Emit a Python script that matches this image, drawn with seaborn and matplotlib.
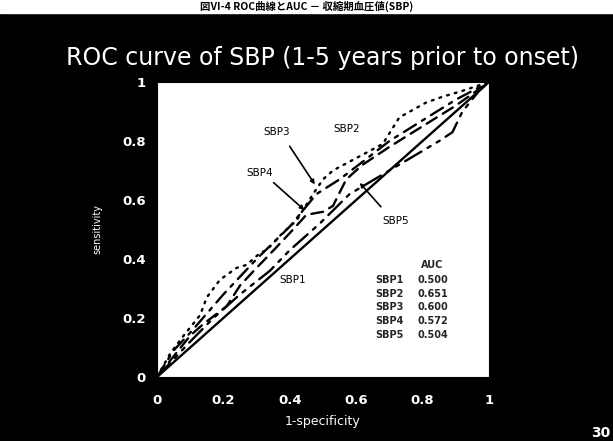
import matplotlib
matplotlib.use("Agg")
import matplotlib.pyplot as plt
from matplotlib.patches import Rectangle
import seaborn as sns

# ROC points (1-specificity, sensitivity)
sbp1_x = [0, 1]
sbp1_y = [0, 1]

sbp2_x = [0, 0.04, 0.08, 0.13, 0.15, 0.19, 0.24, 0.27, 0.31, 0.33, 0.38, 0.42,
          0.47, 0.50, 0.53, 0.58, 0.68, 0.73, 0.81, 0.86, 0.92, 1.0]
sbp2_y = [0, 0.08, 0.14, 0.21, 0.27, 0.33, 0.37, 0.38, 0.42, 0.43, 0.49, 0.53,
          0.62, 0.67, 0.70, 0.73, 0.79, 0.88, 0.93, 0.95, 0.97, 1.0]

sbp3_x = [0, 0.05, 0.10, 0.20, 0.30, 0.40, 0.48, 0.55, 0.62, 0.70, 0.80, 0.90, 1.0]
sbp3_y = [0, 0.09, 0.15, 0.28, 0.40, 0.51, 0.62, 0.67, 0.73, 0.80, 0.87, 0.94, 1.0]

sbp4_x = [0, 0.05, 0.10, 0.14, 0.21, 0.25, 0.30, 0.36, 0.41, 0.45, 0.50, 0.53,
          0.57, 0.62, 0.70, 0.80, 0.90, 1.0]
sbp4_y = [0, 0.07, 0.14, 0.18, 0.24, 0.31, 0.37, 0.44, 0.50, 0.55, 0.56, 0.58,
          0.67, 0.72, 0.78, 0.85, 0.92, 1.0]

sbp5_x = [0, 0.10, 0.17, 0.25, 0.34, 0.40, 0.49, 0.58, 0.67, 0.73, 0.85, 0.89,
          0.92, 0.97, 1.0]
sbp5_y = [0, 0.12, 0.20, 0.28, 0.36, 0.43, 0.52, 0.62, 0.68, 0.72, 0.80, 0.83,
          0.90, 0.97, 1.0]

auc_names = ["SBP1", "SBP2", "SBP3", "SBP4", "SBP5"]
auc_values = ["0.500", "0.651", "0.600", "0.572", "0.504"]

ticks = [0, 0.2, 0.4, 0.6, 0.8, 1]
tick_labels = ["0", "0.2", "0.4", "0.6", "0.8", "1"]

sns.set_style("white")
plt.rcParams['font.family'] = ['DejaVu Sans', 'Noto Sans CJK JP']

fig = plt.figure(figsize=(6.13, 4.41), dpi=100)
fig.patch.set_facecolor('black')

# white strip of the page above the slide, with the caption
fig.add_artist(Rectangle((0, 1 - 13 / 441), 1, 13 / 441,
                         transform=fig.transFigure, color='white', zorder=0))
fig.text(0.5, 1 - 6.5 / 441, "図Ⅵ-4 ROC曲線とAUC － 収縮期血圧値(SBP)",
         family=['Noto Sans CJK JP', 'DejaVu Sans'], fontsize=7.5,
         fontweight='bold', color='black', va='center', ha='center')

ax = fig.add_axes([157 / 613, 1 - 377 / 441, 332 / 613, 295 / 441])
ax.set_facecolor('white')

curves = [
    (sbp1_x, sbp1_y, '-'),
    (sbp2_x, sbp2_y, (0, (0.8, 2.6))),
    (sbp3_x, sbp3_y, (0, (6, 3, 1.5, 3))),
    (sbp4_x, sbp4_y, (0, (5, 3))),
    (sbp5_x, sbp5_y, (0, (8, 3, 1.5, 3, 1.5, 3))),
]
for xs, ys, ls in curves:
    sns.lineplot(x=xs, y=ys, ax=ax, color='black', linewidth=1.7,
                 linestyle=ls, sort=False, estimator=None,
                 dash_capstyle='round')

ax.set_xlim(0, 1)
ax.set_ylim(0, 1)
ax.set_xticks(ticks)
ax.set_xticklabels(tick_labels)
ax.set_yticks(ticks)
ax.set_yticklabels(tick_labels)
ax.tick_params(direction='in', length=4, color='black', labelcolor='white',
               labelsize=9.5)
ax.tick_params(axis='x', pad=12)
ax.tick_params(axis='y', pad=8)
for lab in ax.get_xticklabels() + ax.get_yticklabels():
    lab.set_fontweight('bold')
for sp in ax.spines.values():
    sp.set_color('black')

ax.set_xlabel("1-specificity", color='white', fontsize=9, labelpad=6)
ax.set_ylabel("sensitivity", color='white', fontsize=7, labelpad=14)

# curve labels and arrows
kw = dict(fontsize=7.5, color='black', ha='center', va='center')
ax.text(0.36, 0.83, "SBP3", **kw)
ax.text(0.57, 0.84, "SBP2", **kw)
ax.text(0.31, 0.69, "SBP4", **kw)
ax.text(0.72, 0.53, "SBP5", **kw)
ax.text(0.41, 0.33, "SBP1", **kw)
arrow = dict(arrowstyle='-|>', color='black', lw=1.2, mutation_scale=6)
ax.annotate("", xy=(0.48, 0.645), xytext=(0.395, 0.79), arrowprops=arrow)
ax.annotate("", xy=(0.45, 0.56), xytext=(0.345, 0.665), arrowprops=arrow)
ax.annotate("", xy=(0.605, 0.665), xytext=(0.68, 0.57), arrowprops=arrow)

# AUC table
ax.text(0.83, 0.38, "AUC", fontsize=7, fontweight='bold', ha='center', va='center')
for i, (n, v) in enumerate(zip(auc_names, auc_values)):
    yy = 0.33 - i * 0.047
    ax.text(0.70, yy, n, fontsize=7, fontweight='bold', ha='center', va='center')
    ax.text(0.83, yy, v, fontsize=7, fontweight='bold', ha='center', va='center')

fig.text(322 / 613, 1 - 58 / 441, "ROC curve of SBP (1-5 years prior to onset)",
         color='white', fontsize=17, ha='center', va='center')
fig.text(0.995, 0.002, "30", color='white', fontsize=10, fontweight='bold',
         ha='right', va='bottom')

fig.savefig("out.png", dpi=100, facecolor=fig.get_facecolor())
